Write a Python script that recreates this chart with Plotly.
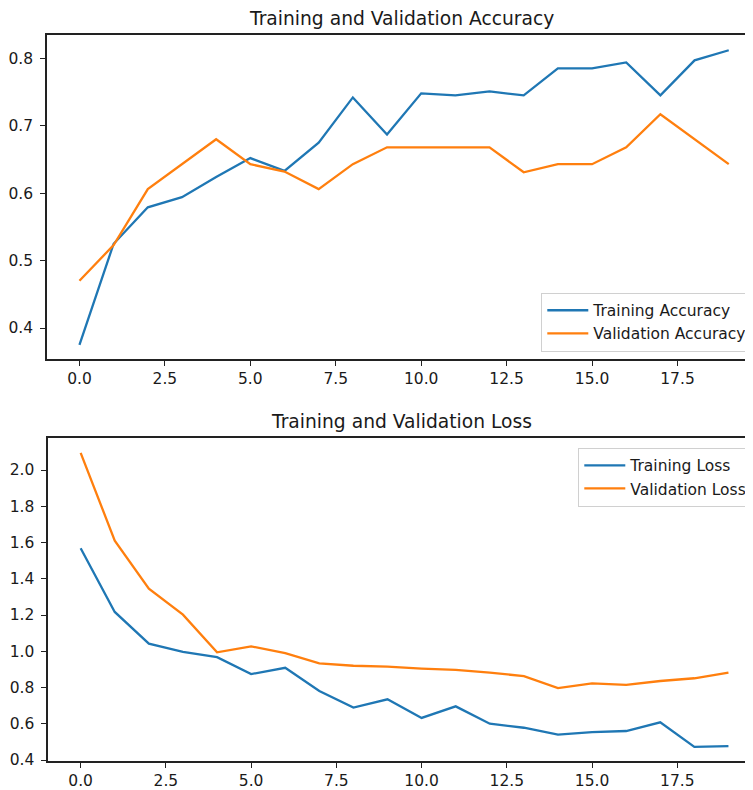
import plotly.graph_objects as go

epochs = list(range(20))
train_acc = [0.375, 0.525, 0.579, 0.594, 0.624, 0.652, 0.633, 0.675, 0.742, 0.687,
             0.748, 0.745, 0.751, 0.745, 0.785, 0.785, 0.794, 0.745, 0.797, 0.812]
val_acc = [0.470, 0.523, 0.606, 0.643, 0.680, 0.643, 0.632, 0.606, 0.643, 0.668,
           0.668, 0.668, 0.668, 0.631, 0.643, 0.643, 0.668, 0.717, 0.680, 0.643]
train_loss = [1.568, 1.217, 1.042, 0.997, 0.967, 0.874, 0.909, 0.781, 0.689, 0.735,
              0.632, 0.696, 0.600, 0.578, 0.540, 0.554, 0.560, 0.608, 0.472, 0.477]
val_loss = [2.095, 1.610, 1.345, 1.202, 0.994, 1.027, 0.990, 0.933, 0.920, 0.915,
            0.904, 0.897, 0.882, 0.863, 0.797, 0.823, 0.814, 0.836, 0.851, 0.882]

BLUE = "#1f77b4"
ORANGE = "#ff7f0e"
FONT = "DejaVu Sans"
TXT = "#1a1a1a"

fig = go.Figure()
fig.add_trace(go.Scatter(x=epochs, y=train_acc, mode="lines", name="Training Accuracy",
                         line=dict(color=BLUE, width=2.3), xaxis="x", yaxis="y", legend="legend"))
fig.add_trace(go.Scatter(x=epochs, y=val_acc, mode="lines", name="Validation Accuracy",
                         line=dict(color=ORANGE, width=2.3), xaxis="x", yaxis="y", legend="legend"))
fig.add_trace(go.Scatter(x=epochs, y=train_loss, mode="lines", name="Training Loss",
                         line=dict(color=BLUE, width=2.3), xaxis="x2", yaxis="y2", legend="legend2"))
fig.add_trace(go.Scatter(x=epochs, y=val_loss, mode="lines", name="Validation Loss",
                         line=dict(color=ORANGE, width=2.3), xaxis="x2", yaxis="y2", legend="legend2"))

axis_common = dict(showgrid=False, zeroline=False, showline=True, linecolor="#222",
                   linewidth=1.6, ticks="outside", ticklen=5, tickwidth=1.3, tickcolor="#222",
                   tickfont=dict(family=FONT, size=15.5, color=TXT))

legend_common = dict(bgcolor="rgba(255,255,255,0.9)", bordercolor="#d0d0d0", borderwidth=1,
                     itemwidth=41, font=dict(family=FONT, size=15.5, color=TXT))

# page body has an 8px margin, so the figure is 8px smaller and shifted
fig.update_layout(
    width=745, height=782,
    margin=dict(l=35, r=0, t=27, b=29),
    paper_bgcolor="white", plot_bgcolor="white",
    font=dict(family=FONT, color=TXT),
    xaxis=dict(domain=[0, 1], anchor="y", range=[-0.95, 19.71], tick0=0, dtick=2.5,
               tickformat=".1f", mirror=True, **axis_common),
    yaxis=dict(domain=[0.5537, 1], anchor="x", range=[0.354, 0.8346], tick0=0.4, dtick=0.1,
               tickformat=".1f", mirror=False, ticklabelstandoff=4, **axis_common),
    xaxis2=dict(domain=[0.0018, 1], anchor="y2", range=[-0.95, 19.72], tick0=0, dtick=2.5,
                tickformat=".1f", mirror=True, **axis_common),
    yaxis2=dict(domain=[0, 0.4445], anchor="x2", range=[0.3945, 2.175], tick0=0.4, dtick=0.2,
                tickformat=".1f", mirror=False, ticklabelstandoff=4, **axis_common),
    legend=dict(x=0.999, y=0.5638, xanchor="right", yanchor="bottom", **legend_common),
    legend2=dict(x=0.999, y=0.4315, xanchor="right", yanchor="top", **legend_common),
    annotations=[
        dict(text="Training and Validation Accuracy", xref="paper", yref="paper",
             x=0.5028, y=1.023, xanchor="center", yanchor="middle", showarrow=False,
             font=dict(family=FONT, size=18.7, color=TXT)),
        dict(text="Training and Validation Loss", xref="paper", yref="paper",
             x=0.5028, y=0.4674, xanchor="center", yanchor="middle", showarrow=False,
             font=dict(family=FONT, size=18.7, color=TXT)),
    ],
    showlegend=True,
)

fig.write_html("out.html")
